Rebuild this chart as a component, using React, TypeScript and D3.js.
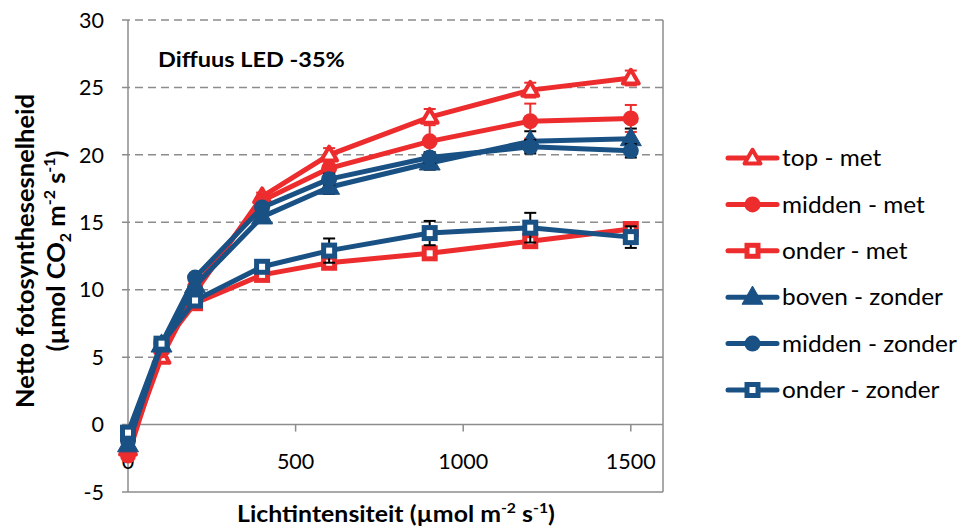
import React from 'react';
import * as d3 from 'd3';

// light levels (µmol m-2 s-1)
const lightLevels = [0, 100, 200, 400, 600, 900, 1200, 1500];

const topMet = [-1.8, 5.0, 9.8, 16.9, 20.0, 22.8, 24.8, 25.7];
const topMetErr = [0.3, 0.3, 0.3, 0.3, 0.5, 0.6, 0.55, 0.55];
const middenMet = [-2.3, 5.5, 10.2, 16.6, 19.0, 21.0, 22.5, 22.7];
const middenMetErr = [0.3, 0.3, 0.3, 0.4, 0.6, 1.4, 1.3, 1.0];
const onderMet = [-0.7, 5.8, 9.0, 11.1, 12.0, 12.7, 13.6, 14.5];
const onderMetErr = [0.2, 0.2, 0.3, 0.3, 0.4, 0.4, 0.5, 0.4];
const bovenZonder = [-1.5, 5.9, 10.3, 15.4, 17.6, 19.4, 21.0, 21.2];
const bovenZonderErr = [0.3, 0.3, 0.3, 0.4, 0.5, 0.5, 0.75, 0.75];
const middenZonder = [-1.2, 6.0, 10.9, 16.1, 18.2, 19.8, 20.6, 20.3];
const middenZonderErr = [0.2, 0.2, 0.3, 0.3, 0.4, 0.4, 0.5, 0.5];
const onderZonder = [-0.6, 6.0, 9.2, 11.7, 12.9, 14.2, 14.6, 13.9];
const onderZonderErr = [0.2, 0.2, 0.3, 0.4, 0.9, 0.9, 1.1, 0.8];

const yTicks = [-5, 0, 5, 10, 15, 20, 25, 30];
const xTicks = [0, 500, 1000, 1500];

const RED = '#ED2C2E';
const BLUE = '#1A5184';

type Shape = 'triangle' | 'circle' | 'square';

interface Series {
  name: string;
  values: number[];
  err: number[];
  color: string;
  errColor: string;
  shape: Shape;
  solid: boolean;
}

const series: Series[] = [
  { name: 'top - met', values: topMet, err: topMetErr, color: RED, errColor: RED, shape: 'triangle', solid: false },
  { name: 'midden - met', values: middenMet, err: middenMetErr, color: RED, errColor: RED, shape: 'circle', solid: true },
  { name: 'onder - met', values: onderMet, err: onderMetErr, color: RED, errColor: RED, shape: 'square', solid: false },
  { name: 'boven - zonder', values: bovenZonder, err: bovenZonderErr, color: BLUE, errColor: '#000', shape: 'triangle', solid: true },
  { name: 'midden - zonder', values: middenZonder, err: middenZonderErr, color: BLUE, errColor: '#000', shape: 'circle', solid: true },
  { name: 'onder - zonder', values: onderZonder, err: onderZonderErr, color: BLUE, errColor: '#000', shape: 'square', solid: false },
];

const FONT = 'Lato, "Open Sans", sans-serif';
const GRID = '#8C8C8C';

function Marker({ shape, color, solid, x, y }: { shape: Shape; color: string; solid: boolean; x: number; y: number }) {
  if (shape === 'circle') {
    return <circle cx={x} cy={y} r={8} fill={color} />;
  }
  if (shape === 'square') {
    return <rect x={x - 5.5} y={y - 5.5} width={11} height={11} fill="#fff" stroke={color} strokeWidth={5} />;
  }
  const tri = d3.symbol(d3.symbolTriangle, solid ? 190 : 110)();
  return (
    <path
      d={tri ?? ''}
      transform={`translate(${x},${y + 1})`}
      fill={solid ? color : '#fff'}
      stroke={color}
      strokeWidth={solid ? 1 : 4}
      strokeLinejoin="round"
    />
  );
}

export default function App() {
  const width = 960;
  const height = 526;
  const left = 128;
  const right = 663;
  const top = 20;
  const bottom = 492;

  const x = d3.scaleLinear().domain([0, 1596]).range([left, right]);
  const y = d3.scaleLinear().domain([-5, 30]).range([bottom, top]);

  const line = d3.line<number>()
    .x((_, i) => x(lightLevels[i]))
    .y((d) => y(d));

  const legendX = 728;
  const legendY = d3.scaleLinear().domain([0, 5]).range([158, 390]);

  return (
    <svg
      width={width}
      height={height}
      style={{ position: 'absolute', left: 0, top: 0, background: '#fff' }}
      fontFamily={FONT}
    >
      {/* gridlines */}
      {yTicks.map((t) => (
        <line
          key={t}
          x1={left - 6}
          x2={right}
          y1={y(t)}
          y2={y(t)}
          stroke={GRID}
          strokeWidth={1.5}
          strokeDasharray={t === -5 || t === 0 ? undefined : '8,5'}
        />
      ))}
      {/* y axis and plot border */}
      <line x1={left} x2={left} y1={top} y2={bottom} stroke={GRID} strokeWidth={1.5} />
      <line x1={right} x2={right} y1={top} y2={bottom} stroke={GRID} strokeWidth={1.5} />
      {/* x tick marks on zero line */}
      {xTicks.map((t) => (
        <line key={t} x1={x(t)} x2={x(t)} y1={y(0)} y2={y(0) + 7} stroke={GRID} strokeWidth={1.5} />
      ))}

      {yTicks.map((t) => (
        <text key={t} x={left - 24} y={y(t)} dy="0.36em" textAnchor="end" fontSize={21.5} fill="#000">
          {t}
        </text>
      ))}
      {xTicks.map((t) => (
        <text key={t} x={x(t)} y={469} textAnchor="middle" fontSize={21.5} fill="#000">
          {t}
        </text>
      ))}

      <text transform="translate(158,67) scale(1.12,1)" fontSize={21} fontWeight="bold" fill="#000">
        Diffuus LED -35%
      </text>

      {/* axis titles */}
      <text
        transform={`translate(34,251) rotate(-90)`}
        textAnchor="middle"
        fontSize={25.5}
        fontWeight="bold"
        fill="#000"
      >
        Netto fotosynthesesnelheid
      </text>
      <text
        transform={`translate(65,251) rotate(-90)`}
        textAnchor="middle"
        fontSize={25.5}
        fontWeight="bold"
        fill="#000"
      >
        (µmol CO<tspan fontSize={16} dy={6}>2</tspan>
        <tspan dy={-6}> m</tspan>
        <tspan fontSize={16} dy={-10}>-2</tspan>
        <tspan dy={10}> s</tspan>
        <tspan fontSize={16} dy={-10}>-1</tspan>
        <tspan dy={10}>)</tspan>
      </text>
      <text transform="translate(396,522) scale(1.13,1)" textAnchor="middle" fontSize={22} fontWeight="bold" fill="#000">
        Lichtintensiteit (µmol m<tspan fontSize={14} dy={-9}>-2</tspan>
        <tspan dy={9}> s</tspan>
        <tspan fontSize={14} dy={-9}>-1</tspan>
        <tspan dy={9}>)</tspan>
      </text>

      {/* series */}
      {series.map((s) => (
        <g key={s.name}>
          {s.values.map((v, i) => {
            const cx = x(lightLevels[i]);
            const yHi = y(v + s.err[i]);
            const yLo = y(v - s.err[i]);
            return (
              <g key={i} stroke={s.errColor} strokeWidth={2}>
                <line x1={cx} x2={cx} y1={yHi} y2={yLo} />
                <line x1={cx - 6} x2={cx + 6} y1={yHi} y2={yHi} />
                <line x1={cx - 6} x2={cx + 6} y1={yLo} y2={yLo} />
              </g>
            );
          })}
          <path d={line(s.values) ?? ''} fill="none" stroke={s.color} strokeWidth={5} strokeLinejoin="round" />
          {s.values.map((v, i) => (
            <Marker key={i} shape={s.shape} color={s.color} solid={s.solid} x={x(lightLevels[i])} y={y(v)} />
          ))}
        </g>
      ))}

      {/* legend */}
      {series.map((s, i) => {
        const ly = legendY(i);
        return (
          <g key={s.name}>
            <line x1={legendX} x2={legendX + 49} y1={ly} y2={ly} stroke={s.color} strokeWidth={5} strokeLinecap="round" />
            <Marker shape={s.shape} color={s.color} solid={s.solid} x={legendX + 24.5} y={ly} />
            <text transform={`translate(${legendX + 54},${ly}) scale(1.06,1)`} dy="0.36em" fontSize={23} fill="#000">
              {s.name}
            </text>
          </g>
        );
      })}
    </svg>
  );
}
